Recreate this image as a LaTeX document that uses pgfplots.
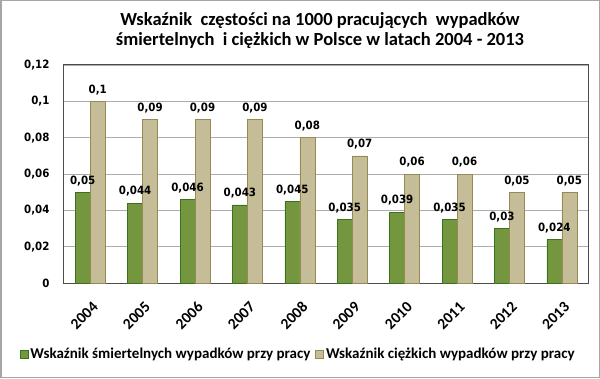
\documentclass[border=0pt]{standalone}
\usepackage{fontspec}
\setmainfont{Carlito}
\newfontfamily\tah{DejaVu Sans Condensed}
\usepackage{pgfplots}
\pgfplotsset{compat=1.18}
\definecolor{grn}{RGB}{116,150,62}
\definecolor{grnd}{RGB}{55,115,30}
\definecolor{tanf}{RGB}{196,189,151}
\definecolor{tand}{RGB}{150,138,84}
\pgfplotsset{sq legend/.style={legend image code/.code={\draw[##1, line width=0.6pt] (0pt,-4pt) rectangle (8pt,4pt);}}}
\begin{document}
\begin{tikzpicture}[x=1pt,y=1pt]
\draw[gray!70, line width=1.5pt] (0.75,0.75) rectangle (599.25,377.25);
\begin{axis}[at={(64pt,95pt)}, anchor=south west, scale only axis,
  width=524pt, height=218pt,
  ybar=0pt, bar width=15pt,
  xmin=-0.5, xmax=9.5, ymin=0, ymax=0.12,
  ytick={0,0.02,0.04,0.06,0.08,0.1,0.12},
  scaled y ticks=false,
  yticklabel style={font=\tah\bfseries\fontsize{11.4}{13}\selectfont, xshift=-11pt,
    /pgf/number format/.cd, fixed, use comma, precision=2, assume math mode=true},
  xtick={0,1,2,3,4,5,6,7,8,9},
  xticklabels={2004,2005,2006,2007,2008,2009,2010,2011,2012,2013},
  xticklabel style={rotate=45, anchor=north east, xshift=-8pt, yshift=-10pt,
    font=\bfseries\fontsize{15.5}{17}\selectfont},
  major tick length=0pt,
  ymajorgrids, grid style={gray!65, line width=0.8pt},
  axis line style={gray!60!black, line width=1pt},
  nodes near coords,
  nodes near coords style={font=\tah\bfseries\fontsize{11.4}{13}\selectfont, yshift=3pt,
    /pgf/number format/.cd, fixed, use comma, precision=3, assume math mode=true},
  legend columns=2,
  legend style={at={(0.447,-0.326)}, anchor=center, draw=none, fill=none,
    font=\bfseries\fontsize{15}{17}\selectfont,
    /tikz/every even column/.append style={column sep=3pt}},
]
\addplot[fill=grn, draw=grnd, sq legend] coordinates {(0,0.05) (1,0.044) (2,0.046) (3,0.043) (4,0.045) (5,0.035) (6,0.039) (7,0.035) (8,0.03) (9,0.024)};
\addplot[fill=tanf, draw=tand, sq legend] coordinates {(0,0.1) (1,0.09) (2,0.09) (3,0.09) (4,0.08) (5,0.07) (6,0.06) (7,0.06) (8,0.05) (9,0.05)};
\legend{Wskaźnik śmiertelnych wypadków przy pracy, Wskaźnik ciężkich wypadków przy pracy}
\end{axis}
\node[anchor=base, font=\bfseries\fontsize{18.5}{20}\selectfont] at (320,352.3) {Wskaźnik\ \ częstości na 1000 pracujących\ \ wypadków};
\node[anchor=base, font=\bfseries\fontsize{18.5}{20}\selectfont] at (320,332.3) {śmiertelnych\ \ i ciężkich w Polsce w latach 2004 - 2013};
\end{tikzpicture}
\end{document}
